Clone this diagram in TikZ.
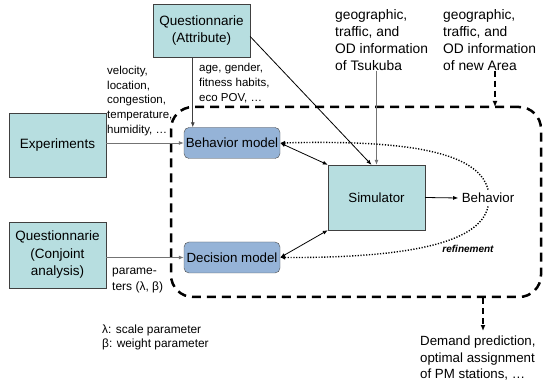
\documentclass[tikz,border=0pt]{standalone}
\usepackage{fontspec}
\setmainfont{Liberation Sans}
\usetikzlibrary{arrows.meta}
\definecolor{srccyan}{RGB}{183,222,224}
\definecolor{modelblue}{RGB}{149,179,215}
\newcommand{\fsz}[2]{\fontsize{#1}{#2}\selectfont}
\tikzset{
  srcbox/.style={draw=black!75,fill=srccyan,minimum width=97pt,align=center,inner sep=1pt,font=\fsz{13.5}{17.5}},
  modelbox/.style={draw=black!70,fill=modelblue,rounded corners=5pt,minimum width=96pt,minimum height=31pt,inner sep=1pt,font=\fsz{13.3}{16}},
  note/.style={anchor=north west,align=left,inner sep=0pt},
  feed/.style={draw=black!55,line width=0.8pt,-{Latex[length=5pt,width=4pt]}},
  link/.style={draw=black,line width=0.8pt,-{Latex[length=5pt,width=4pt]}},
  duplex/.style={draw=black,line width=0.8pt,{Latex[length=5pt,width=4pt]}-{Latex[length=5pt,width=4pt]}},
  hint/.style={draw=black,line width=1.4pt,dash pattern=on 1.2pt off 1.6pt,-{Latex[length=5pt,width=4.5pt]}},
  zone/.style={draw=black,line width=2.5pt,dash pattern=on 9pt off 6pt,rounded corners=22pt},
  outflow/.style={draw=black,line width=2pt,dash pattern=on 6pt off 4pt,-{Latex[length=6pt,width=5pt]}},
}
\begin{document}
\begin{tikzpicture}[x=1pt,y=-1pt]
\useasboundingbox (0,0) rectangle (547,385);
\node[zone,minimum width=370pt,minimum height=190pt] (area) at (356,202) {};
% sources
\node[srcbox,minimum height=53pt] (attr) at (201.5,30.5) {Questionnarie\\(Attribute)};
\node[srcbox,minimum height=64pt] (exp) at (57.5,145) {Experiments};
\node[srcbox,minimum height=66pt] (conj) at (57.5,255) {Questionnarie\\(Conjoint\\analysis)};
\node[note,font=\fsz{13.8}{17}] (tsukuba) at (335,9) {geographic,\\traffic, and\\OD information\\of Tsukuba};
\node[note,font=\fsz{13.8}{17}] (newarea) at (443,9) {geographic,\\traffic, and\\OD information\\of new Area};
% models
\node[modelbox] (bmodel) at (232,143) {Behavior model};
\node[modelbox] (dmodel) at (232,257.5) {Decision model};
\node[srcbox,minimum height=65pt,font=\fsz{13.3}{16}] (sim) at (376.5,197.5) {Simulator};
\node[font=\fsz{13.3}{16}] (behav) at (488,198) {Behavior};
% labels
\node[note,font=\fsz{11.5}{14.7}] (sensed) at (107,66) {velocity,\\location,\\congestion,\\temperature,\\humidity, \dots};
\node[note,font=\fsz{11.5}{15}] (profile) at (199,63) {age, gender,\\fitness habits,\\eco POV, \dots};
\node[note,font=\fsz{12}{16}] (params) at (112,268) {parame-\\ters (λ, β)};
\node[note,font=\fsz{11.9}{14}] (legend) at (102,325) {λ: scale parameter\\β: weight parameter};
\node[note,font=\fsz{13.3}{16.5}] (demand) at (420,336) {Demand prediction,\\optimal assignment\\of PM stations, \dots};
\node[font=\bfseries\itshape\fsz{10}{12}] (refine) at (468,249) {refinement};
\coordinate (bin) at ([xshift=9pt]bmodel.north west);
\coordinate (inlet) at (495,107);
\coordinate (demandtip) at (483,331);
% connectors
\draw[feed] (bmodel.west -| exp.east) -- (bmodel.west);
\draw[feed] (dmodel.west -| conj.east) -- (dmodel.west);
\draw[link,draw=black!75] (attr.south -| bin) -- (bin);
\draw[link] ([yshift=-6pt]attr.east) -- ([xshift=-5pt]sim.north);
\draw[feed] (tsukuba.south -| sim.north) -- (sim.north);
\draw[duplex] (bmodel.east) -- (sim.north west);
\draw[duplex] (dmodel.east) -- (sim.south west);
\draw[link] (sim.east) -- (behav.west);
\draw[hint] (behav.north) .. controls (478,150) and (400,140) .. (bmodel.east);
\draw[hint] (behav.south) .. controls (480,245) and (400,258) .. (dmodel.east);
\draw[outflow] (newarea.south -| inlet) -- (inlet);
\draw[outflow] (area.south -| demandtip) -- (demandtip);
\end{tikzpicture}
\end{document}
